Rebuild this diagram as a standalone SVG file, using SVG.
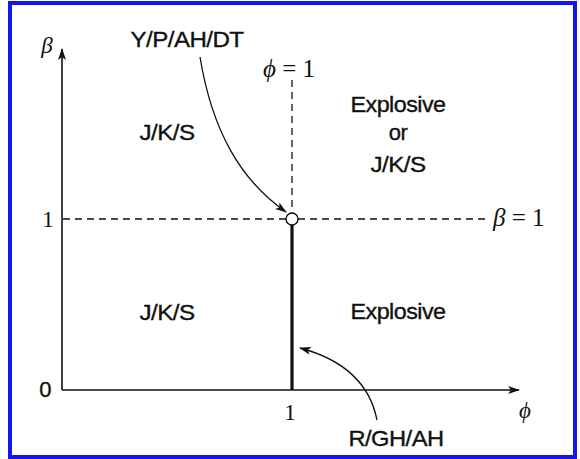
<svg xmlns="http://www.w3.org/2000/svg" width="580" height="459" viewBox="0 0 580 459">
<style>
.lbl{font-family:"Liberation Sans",Arial,sans-serif;font-size:22px;fill:#111;stroke:#111;stroke-width:0.35;text-anchor:middle;letter-spacing:-0.5px}
.math{font-family:"Liberation Serif","DejaVu Serif","Times New Roman",serif;font-size:23px;fill:#111}
.eq{font-size:25px}
.it{font-style:italic}
.ax{stroke:#111;stroke-width:1.6;fill:none}
.dash{stroke:#111;stroke-width:1.3;stroke-dasharray:7 5;fill:none}
.curve{stroke:#111;stroke-width:1.3;fill:none}
</style>
<defs>
<marker id="ah" viewBox="0 0 12 8" refX="11" refY="4" markerWidth="12" markerHeight="8" markerUnits="userSpaceOnUse" orient="auto">
<path d="M0,0 L12,4 L0,8 L3,4 Z" fill="#111"/>
</marker>
</defs>
<rect x="10" y="3" width="565" height="454" fill="#fff" stroke="#1414f0" stroke-width="4"/>
<g id="connectors">
<line class="ax" x1="62" y1="390" x2="62" y2="49" marker-end="url(#ah)"/>
<line class="ax" x1="62" y1="390" x2="519" y2="390" marker-end="url(#ah)"/>
<line class="dash" x1="292" y1="80" x2="292" y2="213"/>
<line class="dash" x1="63" y1="219" x2="286" y2="219"/>
<line class="dash" x1="298" y1="219" x2="490" y2="219"/>
<line stroke="#111" stroke-width="3.2" x1="292" y1="225" x2="292" y2="390"/>
<path class="curve" d="M200,57 C212,130 240,180 286,212" marker-end="url(#ah)"/>
<path class="curve" d="M377,420 C370,385 345,360 300,348" marker-end="url(#ah)"/>
</g>
<g id="point"><circle cx="292" cy="219" r="6" fill="#fff" stroke="#111" stroke-width="1.4"/></g>
<g id="axis-labels">
<text class="math it" x="47" y="53" text-anchor="middle">β</text>
<text class="math" x="48" y="227" text-anchor="middle">1</text>
<text class="lbl" x="45" y="397" font-size="20">0</text>
<text class="math" x="290" y="420" text-anchor="middle">1</text>
<text class="math it" x="525" y="418" text-anchor="middle">ϕ</text>
<text class="math eq" x="263" y="77"><tspan class="it">ϕ</tspan> = 1</text>
<text class="math eq" x="493" y="226"><tspan class="it">β</tspan> = 1</text>
</g>
<g id="label-ypahdt"><text class="lbl" x="187" y="47" textLength="113" lengthAdjust="spacingAndGlyphs">Y/P/AH/DT</text></g>
<g id="label-jks-top"><text class="lbl" x="167" y="140" textLength="55" lengthAdjust="spacingAndGlyphs">J/K/S</text></g>
<g id="label-explosive-or"><text class="lbl" x="398" y="112" textLength="95" lengthAdjust="spacingAndGlyphs">Explosive</text>
<text class="lbl" x="398" y="140">or</text>
<text class="lbl" x="398" y="172" textLength="55" lengthAdjust="spacingAndGlyphs">J/K/S</text></g>
<g id="label-jks-bottom"><text class="lbl" x="167" y="320" textLength="55" lengthAdjust="spacingAndGlyphs">J/K/S</text></g>
<g id="label-explosive"><text class="lbl" x="398" y="319" textLength="95" lengthAdjust="spacingAndGlyphs">Explosive</text></g>
<g id="label-rghah"><text class="lbl" x="396" y="446" textLength="95" lengthAdjust="spacingAndGlyphs">R/GH/AH</text></g>
</svg>
